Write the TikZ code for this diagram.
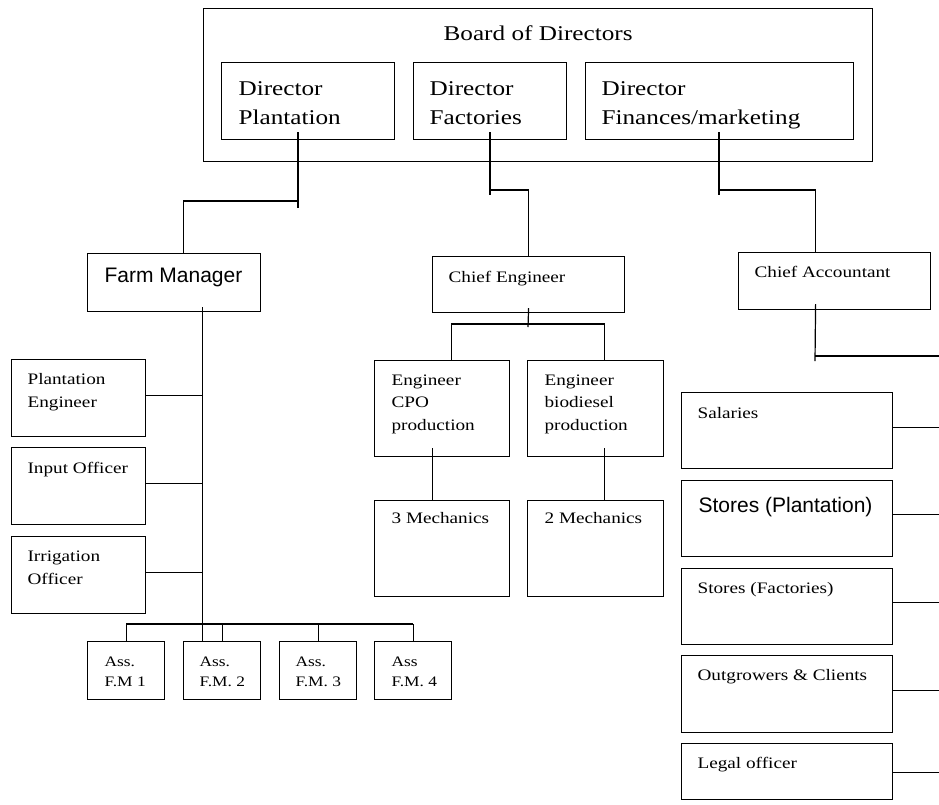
\documentclass[tikz,border=0pt]{standalone}
\usepackage{fontspec}
\setmainfont{Liberation Serif}[FakeStretch=1.2]
\newfontfamily\arialfont{Liberation Sans}
\tikzset{
box/.style={draw, anchor=north west, inner sep=0pt}, % plain rectangle, placed by its top left corner
lbl/.style={anchor=base west, inner sep=0pt, align=left}, % text sitting in a box, placed by its last baseline
big/.style={font=\fontsize{21}{29}\selectfont}, % board and directors
small/.style={font=\fontsize{16}{22.5}\selectfont}, % most of the boxes
tiny/.style={font=\fontsize{14.5}{20}\selectfont}, % assistant farm managers
sans/.style={font=\arialfont\fontsize{21}{25}\selectfont}, % the two Arial labels
}

\begin{document}
\begin{tikzpicture}[x=1pt, y=-1pt, line width=1.2pt]
\useasboundingbox (0,0) rectangle (939,804);
% board and directors
\node[box, minimum width=669, minimum height=153] (board) at (203,8) {};
\node[big, anchor=base, inner sep=0pt] (board-t) at ([yshift=-32pt]board.north) {Board of Directors};
\node[box, minimum width=173, minimum height=77] (dp) at (221,62) {};
\node[lbl, big] (dp-t) at (238,124) {Director\\Plantation};
\node[box, minimum width=153, minimum height=77] (df) at (413,62) {};
\node[lbl, big] (df-t) at (429,124) {Director\\Factories};
\node[box, minimum width=268, minimum height=77] (dfm) at (585,62) {};
\node[lbl, big] (dfm-t) at (601,124) {Director\\Finances/marketing};

% managers
\node[box, minimum width=173, minimum height=58] (fm) at (87,253) {};
\node[lbl, sans] (fm-t) at (104,282) {Farm Manager};
\node[box, minimum width=192, minimum height=56] (ce) at (432,256) {};
\node[lbl, small] (ce-t) at (448,282) {Chief Engineer};
\node[box, minimum width=192, minimum height=57] (ca) at (738,252) {};
\node[lbl, small] (ca-t) at (754,277) {Chief Accountant};

% plantation side
\node[box, minimum width=134, minimum height=77] (pe) at (11,359) {};
\node[lbl, small] (pe-t) at (27,407) {Plantation\\Engineer};
\node[box, minimum width=134, minimum height=77] (io) at (11,447) {};
\node[lbl, small] (io-t) at (27,473) {Input Officer};
\node[box, minimum width=134, minimum height=77] (irr) at (11,536) {};
\node[lbl, small] (irr-t) at (27,584) {Irrigation\\Officer};
\node[box, minimum width=77, minimum height=58] (a1) at (87,641) {};
\node[lbl, tiny] (a1-t) at (104,686) {Ass.\\F.M 1};
\node[box, minimum width=77, minimum height=58] (a2) at (183,641) {};
\node[lbl, tiny] (a2-t) at (199,686) {Ass.\\F.M. 2};
\node[box, minimum width=77, minimum height=58] (a3) at (279,641) {};
\node[lbl, tiny] (a3-t) at (295,686) {Ass.\\F.M. 3};
\node[box, minimum width=77, minimum height=58] (a4) at (374,641) {};
\node[lbl, tiny] (a4-t) at (391,686) {Ass\\F.M. 4};

% factories side
\node[box, minimum width=135, minimum height=96] (ecpo) at (374,360) {};
\node[lbl, small] (ecpo-t) at (391,430) {Engineer\\CPO\\production};
\node[box, minimum width=136, minimum height=96] (ebio) at (527,360) {};
\node[lbl, small] (ebio-t) at (544,430) {Engineer\\biodiesel\\production};
\node[box, minimum width=135, minimum height=96] (mech3) at (374,500) {};
\node[lbl, small] (mech3-t) at (391,523) {3 Mechanics};
\node[box, minimum width=136, minimum height=96] (mech2) at (527,500) {};
\node[lbl, small] (mech2-t) at (544,523) {2 Mechanics};

% finance side
\node[box, minimum width=211, minimum height=76] (sal) at (681,392) {};
\node[lbl, small] (sal-t) at (697,418) {Salaries};
\node[box, minimum width=211, minimum height=76] (stp) at (681,480) {};
\node[lbl, sans] (stp-t) at (698,512) {Stores (Plantation)};
\node[box, minimum width=211, minimum height=76] (stf) at (681,568) {};
\node[lbl, small] (stf-t) at (697,593) {Stores (Factories)};
\node[box, minimum width=211, minimum height=77] (out) at (681,655) {};
\node[lbl, small] (out-t) at (697,680) {Outgrowers \& Clients};
\node[box, minimum width=211, minimum height=56] (leg) at (681,743) {};
\node[lbl, small] (leg-t) at (697,768) {Legal officer};

% junctions
\coordinate (dp-j) at (298,201);
\coordinate (df-j) at (490,190);
\coordinate (dfm-j) at (719,190);
\coordinate (ce-j) at (528,324);
\coordinate (ca-j) at (815,356);
\coordinate (ca-end) at (939,356);
\coordinate (fm-bus) at (202,624);

% directors down to managers
\draw ([yshift=8pt]dp.south -| dp-j) -- ([yshift=-7pt]dp-j);
\draw (dp-j) -| ([xshift=9.5pt]fm.north);
\draw ([yshift=8pt]df.south -| df-j) -- ([yshift=-5pt]df-j);
\draw (df-j) -| (ce.north);
\draw ([yshift=8pt]dfm.south -| dfm-j) -- ([yshift=-5pt]dfm-j);
\draw (dfm-j) -| ([xshift=-19pt]ca.north);

% chief engineer
\draw ([yshift=5pt]ce.south) -- ([yshift=-3pt]ce-j);
\draw ([xshift=9.5pt]ecpo.north) |- (ce-j) -| ([xshift=9pt]ebio.north);
\draw ([xshift=-9.5pt,yshift=9pt]ecpo.south) -- ([xshift=-9.5pt]mech3.north);
\draw ([xshift=9pt,yshift=9pt]ebio.south) -- ([xshift=9pt]mech2.north);

% farm manager
\draw ([xshift=28.5pt,yshift=5pt]fm.south) -- ([xshift=-19.5pt]a2.north);
\foreach \n in {pe,io,irr}
  \draw ([yshift=2.5pt]\n.east) -- ([yshift=2.5pt]\n.east -| fm-bus);
\draw (a1.north |- fm-bus) -- (a4.north |- fm-bus);
\foreach \n in {a1,a2,a3,a4}
  \draw (\n.north) -- (\n.north |- fm-bus);

% chief accountant
\draw ([xshift=-19pt,yshift=6pt]ca.south) -- ([yshift=-5pt]ca-j);
\draw (ca-j) -- (ca-end);
\foreach \n/\s in {sal/3,stp/4,stf/4,out/4,leg/-1}
  \draw ([yshift=\s pt]\n.east) -- ([yshift=\s pt]\n.east -| ca-end);
\end{tikzpicture}
\end{document}
